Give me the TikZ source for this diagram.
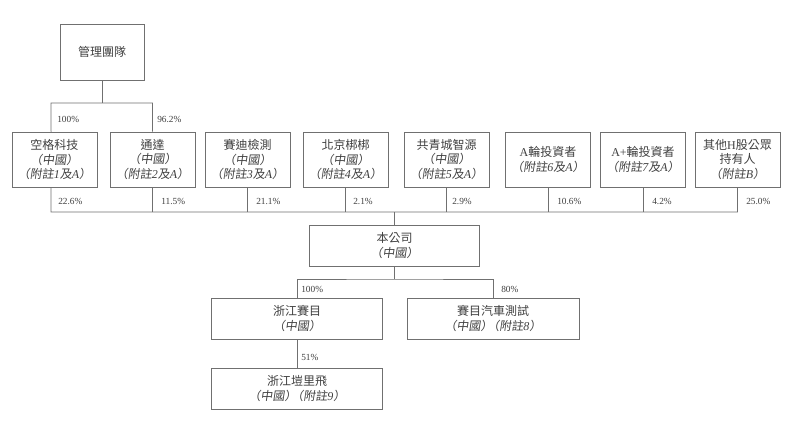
\documentclass[tikz,border=0pt]{standalone}
\usepackage{fontspec}
\setmainfont{Liberation Serif}
\newfontfamily\cjk{Noto Sans CJK TC}
\newfontfamily\cjksl[FakeSlant=0.15]{Noto Sans CJK TC}
\newcommand{\ltit}[1]{{\rmfamily\itshape #1}}
\newcommand{\ZG}{{\cjksl （中國）}}
\newcommand{\FZ}[1]{{\cjksl （附註}\ltit{#1}{\cjksl 及}\ltit{A}{\cjksl ）}}
\definecolor{ln}{HTML}{707070}
\definecolor{tx}{HTML}{404040}
\tikzset{
  box/.style={draw=ln, line width=0.7pt, align=center, text=tx, inner sep=1pt,
    font=\cjk\fontsize{9}{11.2}\selectfont},
  rowbox/.style={box, minimum width=63.75pt, minimum height=41.25pt},
  widebox/.style={box, minimum width=128pt, minimum height=30.75pt},
  pct/.style={anchor=west, text=tx, font=\fontsize{7}{8}\selectfont, inner sep=0pt},
  conn/.style={draw=ln, line width=0.7pt}
}
\begin{document}
\begin{tikzpicture}[x=0.75pt,y=-0.75pt]
\useasboundingbox (0,0) rectangle (800,435);
\fill[white] (0,0) rectangle (800,435);
% top
\node[box, minimum width=63pt, minimum height=42pt] (m) at (102,52) {管理團隊};
% row
\node[rowbox] (b1) at (54.5,159.5) {空格科技\\\ZG\\\FZ{1}};
\node[rowbox] (b2) at (152.5,159.5) {通達\\\ZG\\\FZ{2}};
\node[rowbox] (b3) at (247.5,159.5) {賽迪檢測\\\ZG\\\FZ{3}};
\node[rowbox] (b4) at (345.5,159.5) {北京梆梆\\\ZG\\\FZ{4}};
\node[rowbox] (b5) at (446.5,159.5) {共青城智源\\\ZG\\\FZ{5}};
\node[rowbox] (b6) at (548,159.5) {\textrm{A}輪投資者\\\FZ{6}};
\node[rowbox] (b7) at (643,159.5) {\textrm{A+}輪投資者\\\FZ{7}};
\node[rowbox] (b8) at (737.5,159.5) {其他\textrm{H}股公眾\\持有人\\{\cjksl （附註}\ltit{B}{\cjksl ）}};
% company
\node[widebox] (co) at (394.5,245.5) {本公司\\\ZG};
\node[widebox] (c1) at (297,318.5) {浙江賽目\\\ZG};
\node[widebox, minimum width=129pt] (c2) at (493,318.5) {賽目汽車測試\\{\cjksl （中國）\kern-0.45em（附註}\ltit{8}{\cjksl ）}};
\node[widebox] (c3) at (297,388.5) {浙江塏里飛\\{\cjksl （中國）\kern-0.45em（附註}\ltit{9}{\cjksl ）}};
% management to holders
\coordinate (mb) at (102,103);
\coordinate (mL) at (51,103);
\draw[conn] (m.south) -- (mb);
\draw[conn] ([xshift=-2.6pt]b1.north) -- (mL) -- (mL -| b2.north) -- (b2.north);
\node[pct] (p1) at (57,119) {100\%};
\node[pct] (p2) at (157,119) {96.2\%};
% bus
\coordinate (bus) at (51,212);
\draw[conn] ([xshift=-2.6pt]b1.south) -- (bus) -- (bus -| b8.south) -- (b8.south);
\foreach \b in {b2,b3,b4,b5,b6,b7}{\draw[conn] (\b.south) -- (\b.south |- bus);}
\draw[conn] (co.north) -- (co.north |- bus);
\node[pct] at (58,201) {22.6\%};
\node[pct] at (161,201) {11.5\%};
\node[pct] at (256,201) {21.1\%};
\node[pct] at (353,201) {2.1\%};
\node[pct] at (452,201) {2.9\%};
\node[pct] at (557,201) {10.6\%};
\node[pct] at (652,201) {4.2\%};
\node[pct] at (746,201) {25.0\%};
% company to subsidiaries
\coordinate (cb) at (394.5,279);
\draw[conn] (co.south) -- (cb);
\draw[conn] (c1.north) |- (cb) -| (c2.north);
\draw[conn] (c1.south) -- (c3.north);
\node[pct] at (301,289) {100\%};
\node[pct] at (501,289) {80\%};
\node[pct] at (301,357) {51\%};
\end{tikzpicture}
\end{document}
